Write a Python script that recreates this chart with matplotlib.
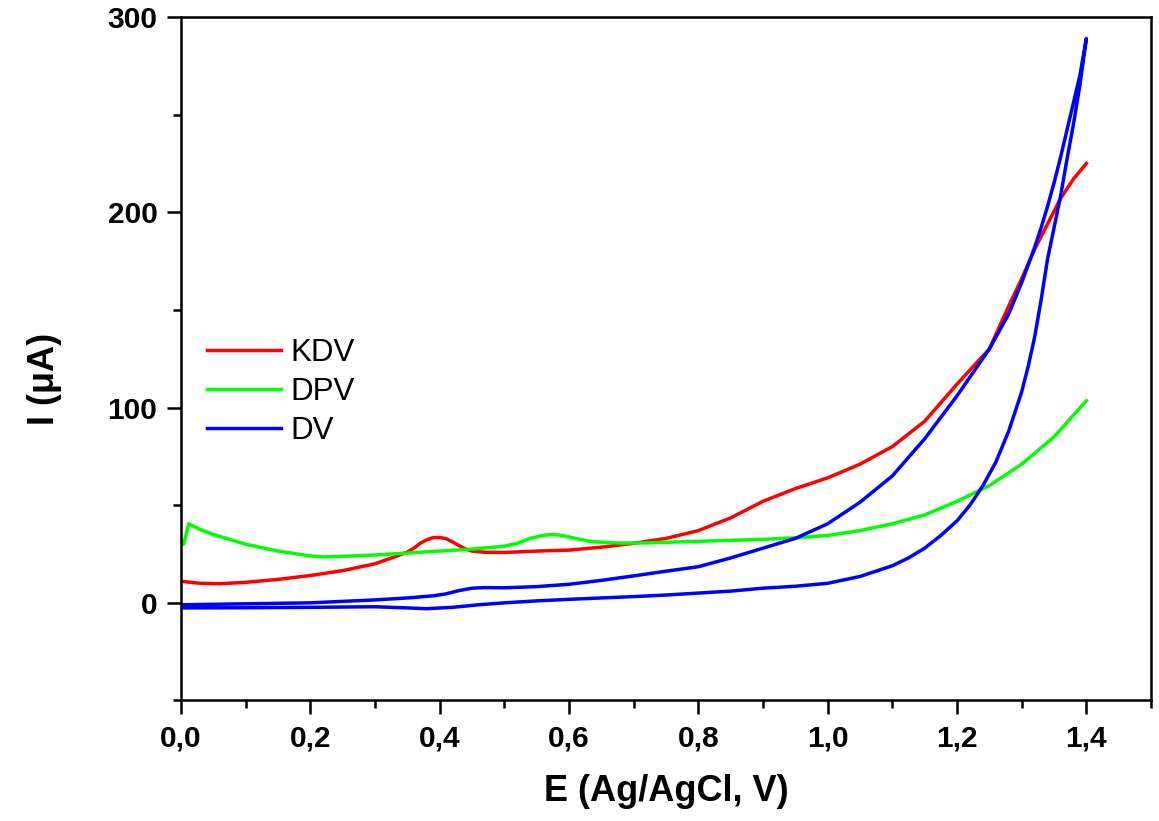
import matplotlib
matplotlib.use("Agg")
import matplotlib.pyplot as plt
from matplotlib.ticker import MultipleLocator

plt.rcParams["font.family"] = ["Liberation Sans", "DejaVu Sans"]

# ===== data =====
KDV_E = [0.00, 0.03, 0.06, 0.10, 0.15, 0.20, 0.25, 0.30, 0.33, 0.35, 0.36, 0.37,
         0.38, 0.39, 0.40, 0.41, 0.42, 0.43, 0.44, 0.45, 0.47, 0.50, 0.55, 0.60,
         0.65, 0.70, 0.75, 0.80, 0.85, 0.90, 0.95, 1.00, 1.05, 1.10, 1.15, 1.20,
         1.25, 1.28, 1.30, 1.32, 1.34, 1.36, 1.38, 1.40]
KDV_I = [11.0, 10.0, 9.8, 10.5, 12.0, 14.0, 16.5, 20.0, 23.5, 26.0, 28.0, 30.5,
         32.3, 33.4, 33.5, 32.8, 31.2, 29.3, 27.6, 26.5, 25.9, 25.8, 26.5, 27.0,
         28.5, 30.5, 33.0, 37.0, 43.5, 52.0, 58.5, 64.0, 71.0, 80.0, 93.0, 112.0,
         130.0, 152.0, 166.0, 181.0, 194.0, 207.0, 217.0, 225.0]

DPV_E = [0.000, 0.004, 0.012, 0.03, 0.05, 0.08, 0.10, 0.15, 0.20, 0.22, 0.25,
         0.30, 0.35, 0.40, 0.45, 0.50, 0.52, 0.54, 0.56, 0.575, 0.59, 0.61, 0.63,
         0.65, 0.68, 0.72, 0.76, 0.80, 0.85, 0.90, 0.95, 1.00, 1.05, 1.10, 1.15,
         1.20, 1.25, 1.30, 1.35, 1.40]
DPV_I = [32.5, 30.0, 40.5, 37.5, 35.0, 32.0, 30.0, 26.5, 24.0, 23.5, 23.8,
         24.5, 25.5, 26.5, 27.5, 29.0, 30.5, 33.0, 34.6, 35.0, 34.5, 33.0, 31.6,
         31.0, 30.6, 30.7, 31.1, 31.5, 32.0, 32.5, 33.3, 34.5, 37.0, 40.5, 45.0,
         52.0, 60.0, 71.0, 85.0, 103.5]

# DV: forward sweep (lower branch) then reverse sweep (upper branch)
DV_FWD_E = [0.00, 0.10, 0.20, 0.30, 0.35, 0.38, 0.42, 0.46, 0.50, 0.55, 0.60,
            0.65, 0.70, 0.75, 0.80, 0.85, 0.90, 0.95, 1.00, 1.05, 1.10, 1.125,
            1.15, 1.175, 1.20, 1.22, 1.24, 1.26, 1.28, 1.30, 1.31, 1.32, 1.33,
            1.34, 1.35, 1.36, 1.37, 1.38, 1.39, 1.40]
DV_FWD_I = [-2.6, -2.5, -2.3, -2.0, -2.6, -3.0, -2.3, -1.0, 0.0, 1.0, 1.8,
            2.5, 3.2, 4.0, 5.0, 6.0, 7.5, 8.5, 10.0, 13.5, 19.0, 23.0,
            28.0, 34.5, 42.0, 50.0, 60.0, 72.0, 88.0, 108.0, 121.0, 136.0, 155.0,
            176.0, 192.0, 208.0, 227.0, 245.0, 265.0, 289.0]
DV_REV_E = [1.39, 1.38, 1.37, 1.36, 1.35, 1.34, 1.33, 1.32, 1.31, 1.30, 1.28,
            1.25, 1.20, 1.15, 1.10, 1.05, 1.00, 0.95, 0.90, 0.85, 0.80, 0.75,
            0.70, 0.65, 0.60, 0.55, 0.50, 0.47, 0.45, 0.43, 0.41, 0.39, 0.35,
            0.30, 0.20, 0.10, 0.00]
DV_REV_I = [270.0, 256.0, 242.0, 228.0, 215.0, 203.0, 192.0, 182.0, 173.0, 164.0,
            148.0, 130.0, 106.0, 84.0, 65.0, 51.5, 40.5, 33.0, 28.0, 23.0, 18.5,
            16.2, 13.8, 11.5, 9.5, 8.3, 7.7, 7.8, 7.5, 6.3, 4.6, 3.6, 2.5, 1.5,
            0.0, -0.5, -1.0]

X_TICKS = [0.0, 0.2, 0.4, 0.6, 0.8, 1.0, 1.2, 1.4]
X_TICK_LABELS = ["0,0", "0,2", "0,4", "0,6", "0,8", "1,0", "1,2", "1,4"]
Y_TICKS = [0, 100, 200, 300]
Y_TICK_LABELS = ["0", "100", "200", "300"]


def main() -> None:
    fig = plt.figure(figsize=(11.59, 8.21), dpi=100)
    ax = fig.add_axes([0.1562, 0.1468, 0.8369, 0.8325])

    lw = 2.5
    ax.plot(KDV_E, KDV_I, color="#ff0000", linewidth=lw, label="KDV")
    ax.plot(DPV_E, DPV_I, color="#00ff00", linewidth=lw, label="DPV")
    ax.plot(DV_FWD_E + DV_REV_E, DV_FWD_I + DV_REV_I, color="#0000ff",
            linewidth=lw, label="DV")

    ax.set_xlim(0, 1.5)
    ax.set_ylim(-50, 300)

    ax.set_xticks(X_TICKS)
    ax.set_xticklabels(X_TICK_LABELS)
    ax.set_yticks(Y_TICKS)
    ax.set_yticklabels(Y_TICK_LABELS)
    ax.xaxis.set_minor_locator(MultipleLocator(0.1))
    ax.yaxis.set_minor_locator(MultipleLocator(50))

    ax.tick_params(which="major", direction="out", length=10, width=1.8,
                   labelsize=21.5, pad=7)
    ax.tick_params(which="minor", direction="out", length=6, width=1.8)
    for lab in ax.get_xticklabels() + ax.get_yticklabels():
        lab.set_fontweight("bold")

    for sp in ax.spines.values():
        sp.set_linewidth(1.8)

    ax.set_xlabel("E (Ag/AgCl, V)", fontsize=26, fontweight="bold")
    ax.set_ylabel("I (\u03bcA)", fontsize=26, fontweight="bold")
    ax.xaxis.set_label_coords(0.5, -0.107)
    ax.yaxis.set_label_coords(-0.123, 0.47)

    ax.legend(loc="upper left", bbox_to_anchor=(0.027, 0.531), frameon=False,
              fontsize=22.5, handlelength=2.35, handletextpad=0.3,
              labelspacing=0.3, borderpad=0, borderaxespad=0)

    fig.savefig("out.png", dpi=100, facecolor="white")
    plt.close(fig)


if __name__ == "__main__":
    main()
